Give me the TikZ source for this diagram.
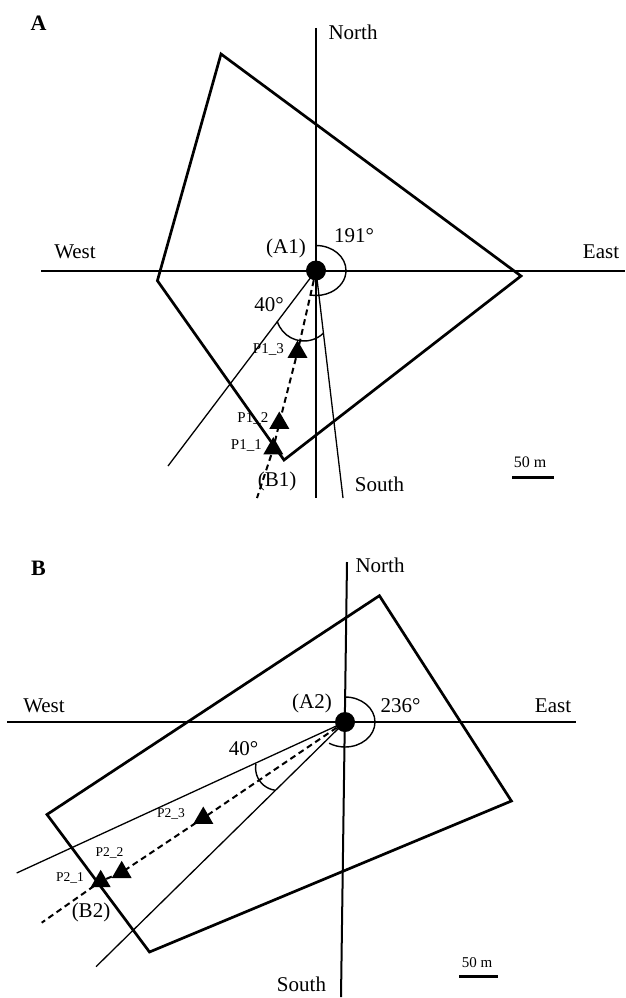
\documentclass[tikz,border=0pt]{standalone}
\usepackage{fontspec}
\setmainfont{Liberation Serif}
\usetikzlibrary{shapes.geometric}
\begin{document}
\begin{tikzpicture}[x=1pt,y=1pt,
  axisline/.style={line width=2pt},
  bound/.style={line width=2.7pt,line join=miter},
  ray/.style={line width=1.3pt},
  transect/.style={line width=2pt,dash pattern=on 6pt off 4pt},
  anglearc/.style={line width=1.4pt},
  tri/.style={regular polygon,regular polygon sides=3,fill=black,inner sep=0pt,minimum size=23pt},
  station/.style={circle,fill=black,inner sep=0pt,minimum size=20pt},
  lbl/.style={font=\fontsize{21}{25}\selectfont,inner sep=0pt},
  plbl/.style={font=\fontsize{15}{17}\selectfont,inner sep=0pt},
  plblb/.style={font=\fontsize{13.5}{16}\selectfont,inner sep=0pt},
  scl/.style={font=\fontsize{16}{18}\selectfont,inner sep=0pt},
  sclb/.style={font=\fontsize{15}{17}\selectfont,inner sep=0pt},
  panel/.style={font=\bfseries\fontsize{22}{26}\selectfont,inner sep=0pt},
  scalebar/.style={line width=3pt}]
\useasboundingbox (0,0) rectangle (625,-998);

% ================= Panel A =================
\node[panel] (labA) at (38.5,-23) {A};
\coordinate (AN) at (316,-28);
\coordinate (AS) at (316,-498);
\coordinate (AW) at (41,-270.5);
\coordinate (AE) at (625,-270.5);
\coordinate (Aq1) at (221,-54);
\coordinate (Aq2) at (521,-276);
\coordinate (Aq3) at (284,-460);
\coordinate (Aq4) at (157.4,-280.7);
\coordinate (ArW) at (168,-466);
\coordinate (ArS) at (343,-498);
\coordinate (AdE) at (257,-498);

\node[station] (A1) at (316,-270.5) {};
\node[tri] (P13) at (297.5,-352) {};
\node[tri] (P12) at (279.3,-423) {};
\node[tri] (P11) at (273.3,-448.6) {};

\draw[bound] (Aq1) -- (Aq2) -- (Aq3) -- (Aq4) -- cycle;
\draw[axisline] (AN) -- (AS);
\draw[axisline] (AW) -- (AE);
\draw[ray] (A1.center) -- (ArW);
\draw[ray] (A1.center) -- (ArS);
\draw[transect] (A1.center) -- (P13.center) -- (P12.center) -- (P11.center) -- (AdE);
\draw[anglearc] (A1.center) ++(90:25) arc[start angle=90,end angle=-101,x radius=30,y radius=25];
\draw[anglearc] (304,-313) ++(197:28) arc[start angle=197,end angle=314,radius=28];

\node[lbl] (tAN) at (353,-32) {North};
\node[lbl] (tAW) at (75,-252) {West};
\node[lbl] (tAE) at (601,-252) {East};
\node[lbl] (tAS) at (379.5,-484) {South};
\node[lbl] (tA1) at (286,-248) {(A1)};
\node[lbl] (tA191) at (354,-236) {191°};
\node[lbl] (tA40) at (269,-305) {40°};
\node[lbl] (tB1) at (277,-481) {(B1)};
\node[plbl,anchor=east] (tP13) at (284,-349) {P1\_3};
\node[plbl,anchor=east] (tP12) at (268.5,-418) {P1\_2};
\node[plbl,anchor=east] (tP11) at (262,-446) {P1\_1};
\node[scl] (tAsc) at (530,-462) {50 m};
\coordinate (AscL) at (512,-477.3);
\coordinate (AscR) at (554,-477.3);
\draw[scalebar] (AscL) -- (AscR);

% ================= Panel B =================
\node[panel] (labB) at (38.5,-568) {B};
\coordinate (BN) at (347,-562);
\coordinate (BS) at (341,-997);
\coordinate (BW) at (7,-722);
\coordinate (BE) at (576,-722);
\coordinate (Bq1) at (379.4,-595.7);
\coordinate (Bq2) at (511.4,-801);
\coordinate (Bq3) at (149.5,-952);
\coordinate (Bq4) at (47,-814.5);
\coordinate (BrU) at (16.7,-873);
\coordinate (BrL) at (96,-966.7);
\coordinate (BdE) at (41.7,-922.7);

\node[station] (A2) at (345,-722) {};
\node[tri] (P23) at (203.3,-818) {};
\node[tri] (P22) at (121.7,-872.3) {};
\node[tri] (P21) at (100.7,-881.3) {};

\draw[bound] (Bq1) -- (Bq2) -- (Bq3) -- (Bq4) -- cycle;
\draw[axisline] (BN) -- (BS);
\draw[axisline] (BW) -- (BE);
\draw[ray] (A2.center) -- (BrU);
\draw[ray] (A2.center) -- (BrL);
\draw[transect] (A2.center) -- (P23.center) -- (P22.center) -- (P21.center) -- (BdE);
\draw[anglearc] (A2.center) ++(90:25) arc[start angle=90,end angle=-122,x radius=30,y radius=25];
\draw[anglearc] (278,-768) ++(170:22.4) arc[start angle=170,end angle=262,radius=22.4];

\node[lbl] (tBN) at (380,-565.5) {North};
\node[lbl] (tBW) at (44,-705.5) {West};
\node[lbl] (tBE) at (553,-705.5) {East};
\node[lbl] (tBS) at (301.5,-984) {South};
\node[lbl] (tA2) at (312,-703) {(A2)};
\node[lbl] (tB236) at (400.5,-705.5) {236°};
\node[lbl] (tB40) at (243.5,-749) {40°};
\node[lbl] (tB2) at (91,-912.5) {(B2)};
\node[plblb] (tP23) at (171,-814) {P2\_3};
\node[plblb] (tP22) at (109.5,-853) {P2\_2};
\node[plblb] (tP21) at (70,-878) {P2\_1};
\node[sclb] (tBsc) at (477,-963) {50 m};
\coordinate (BscL) at (459,-976.7);
\coordinate (BscR) at (498,-976.7);
\draw[scalebar] (BscL) -- (BscR);
\end{tikzpicture}
\end{document}
